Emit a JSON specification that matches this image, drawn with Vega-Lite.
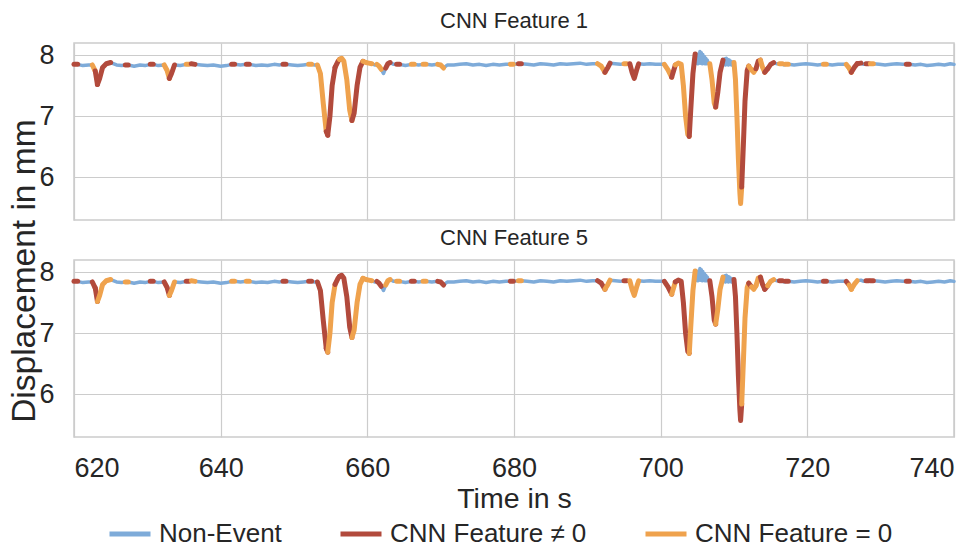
{
"$schema": "https://vega.github.io/schema/vega-lite/v6.json",
"padding": {"left": 8, "top": 9, "right": 4, "bottom": 0},
"background": "white",
"title": {"text": "Displacement in mm", "orient": "left", "anchor": "middle", "frame": "bounds", "fontSize": 33.5, "fontWeight": "normal", "color": "#262626", "font": "Liberation Sans", "offset": -4, "dx": 7},
"data": {"values": [
{"t":620.0,"y":7.85,"CNN Feature 1":"CNN Feature ≠ 0","CNN Feature 5":"CNN Feature ≠ 0","s":1},
{"t":620.5,"y":7.85,"CNN Feature 1":"CNN Feature ≠ 0","CNN Feature 5":"CNN Feature ≠ 0","s":1},
{"t":621.2,"y":7.83},
{"t":622.0,"y":7.84},
{"t":622.5,"y":7.84,"CNN Feature 1":"CNN Feature = 0","CNN Feature 5":"CNN Feature ≠ 0","s":2},
{"t":622.9,"y":7.74,"CNN Feature 1":"CNN Feature = 0","CNN Feature 5":"CNN Feature ≠ 0","s":2},
{"t":622.9,"y":7.74,"CNN Feature 1":"CNN Feature ≠ 0","CNN Feature 5":"CNN Feature ≠ 0","s":3},
{"t":623.2,"y":7.52,"CNN Feature 1":"CNN Feature ≠ 0","CNN Feature 5":"CNN Feature ≠ 0","s":3},
{"t":623.2,"y":7.52,"CNN Feature 1":"CNN Feature ≠ 0","CNN Feature 5":"CNN Feature = 0","s":4},
{"t":623.5,"y":7.62,"CNN Feature 1":"CNN Feature ≠ 0","CNN Feature 5":"CNN Feature = 0","s":4},
{"t":623.9,"y":7.80,"CNN Feature 1":"CNN Feature ≠ 0","CNN Feature 5":"CNN Feature = 0","s":4},
{"t":624.4,"y":7.86,"CNN Feature 1":"CNN Feature ≠ 0","CNN Feature 5":"CNN Feature = 0","s":4},
{"t":625.0,"y":7.88,"CNN Feature 1":"CNN Feature ≠ 0","CNN Feature 5":"CNN Feature = 0","s":4},
{"t":625.8,"y":7.84},
{"t":626.5,"y":7.83},
{"t":627.0,"y":7.84,"CNN Feature 1":"CNN Feature ≠ 0","CNN Feature 5":"CNN Feature = 0","s":5},
{"t":627.4,"y":7.84,"CNN Feature 1":"CNN Feature ≠ 0","CNN Feature 5":"CNN Feature = 0","s":5},
{"t":628.2,"y":7.82},
{"t":629.0,"y":7.84},
{"t":629.7,"y":7.83},
{"t":630.4,"y":7.85,"CNN Feature 1":"CNN Feature ≠ 0","CNN Feature 5":"CNN Feature ≠ 0","s":6},
{"t":630.8,"y":7.85,"CNN Feature 1":"CNN Feature ≠ 0","CNN Feature 5":"CNN Feature ≠ 0","s":6},
{"t":631.5,"y":7.83},
{"t":632.3,"y":7.84,"CNN Feature 1":"CNN Feature = 0","CNN Feature 5":"CNN Feature ≠ 0","s":7},
{"t":632.7,"y":7.75,"CNN Feature 1":"CNN Feature = 0","CNN Feature 5":"CNN Feature ≠ 0","s":7},
{"t":633.0,"y":7.62,"CNN Feature 1":"CNN Feature = 0","CNN Feature 5":"CNN Feature ≠ 0","s":7},
{"t":633.0,"y":7.62,"CNN Feature 1":"CNN Feature ≠ 0","CNN Feature 5":"CNN Feature = 0","s":8},
{"t":633.3,"y":7.70,"CNN Feature 1":"CNN Feature ≠ 0","CNN Feature 5":"CNN Feature = 0","s":8},
{"t":633.7,"y":7.84,"CNN Feature 1":"CNN Feature ≠ 0","CNN Feature 5":"CNN Feature = 0","s":8},
{"t":634.5,"y":7.83},
{"t":635.3,"y":7.85,"CNN Feature 1":"CNN Feature = 0","CNN Feature 5":"CNN Feature ≠ 0","s":9},
{"t":635.7,"y":7.85,"CNN Feature 1":"CNN Feature = 0","CNN Feature 5":"CNN Feature ≠ 0","s":9},
{"t":636.0,"y":7.86,"CNN Feature 1":"CNN Feature ≠ 0","CNN Feature 5":"CNN Feature = 0","s":10},
{"t":636.5,"y":7.85,"CNN Feature 1":"CNN Feature ≠ 0","CNN Feature 5":"CNN Feature = 0","s":10},
{"t":637.3,"y":7.84},
{"t":638.2,"y":7.83},
{"t":639.0,"y":7.84},
{"t":640.0,"y":7.82},
{"t":640.8,"y":7.83},
{"t":641.5,"y":7.85,"CNN Feature 1":"CNN Feature ≠ 0","CNN Feature 5":"CNN Feature = 0","s":11},
{"t":641.9,"y":7.85,"CNN Feature 1":"CNN Feature ≠ 0","CNN Feature 5":"CNN Feature = 0","s":11},
{"t":642.7,"y":7.84},
{"t":643.5,"y":7.85,"CNN Feature 1":"CNN Feature ≠ 0","CNN Feature 5":"CNN Feature = 0","s":12},
{"t":643.9,"y":7.85,"CNN Feature 1":"CNN Feature ≠ 0","CNN Feature 5":"CNN Feature = 0","s":12},
{"t":644.8,"y":7.83},
{"t":645.6,"y":7.84},
{"t":646.4,"y":7.83},
{"t":647.3,"y":7.85},
{"t":648.0,"y":7.84},
{"t":648.5,"y":7.85,"CNN Feature 1":"CNN Feature ≠ 0","CNN Feature 5":"CNN Feature ≠ 0","s":13},
{"t":648.9,"y":7.85,"CNN Feature 1":"CNN Feature ≠ 0","CNN Feature 5":"CNN Feature ≠ 0","s":13},
{"t":649.7,"y":7.84},
{"t":650.5,"y":7.83},
{"t":651.3,"y":7.84},
{"t":652.0,"y":7.85,"CNN Feature 1":"CNN Feature = 0","CNN Feature 5":"CNN Feature ≠ 0","s":14},
{"t":652.4,"y":7.85,"CNN Feature 1":"CNN Feature = 0","CNN Feature 5":"CNN Feature ≠ 0","s":14},
{"t":652.8,"y":7.84},
{"t":653.2,"y":7.84,"CNN Feature 1":"CNN Feature = 0","CNN Feature 5":"CNN Feature ≠ 0","s":15},
{"t":653.6,"y":7.70,"CNN Feature 1":"CNN Feature = 0","CNN Feature 5":"CNN Feature ≠ 0","s":15},
{"t":654.0,"y":7.20,"CNN Feature 1":"CNN Feature = 0","CNN Feature 5":"CNN Feature ≠ 0","s":15},
{"t":654.4,"y":6.75,"CNN Feature 1":"CNN Feature = 0","CNN Feature 5":"CNN Feature ≠ 0","s":15},
{"t":654.4,"y":6.75,"CNN Feature 1":"CNN Feature ≠ 0","CNN Feature 5":"CNN Feature ≠ 0","s":16},
{"t":654.6,"y":6.69,"CNN Feature 1":"CNN Feature ≠ 0","CNN Feature 5":"CNN Feature ≠ 0","s":16},
{"t":654.6,"y":6.69,"CNN Feature 1":"CNN Feature ≠ 0","CNN Feature 5":"CNN Feature = 0","s":17},
{"t":654.9,"y":7.00,"CNN Feature 1":"CNN Feature ≠ 0","CNN Feature 5":"CNN Feature = 0","s":17},
{"t":655.2,"y":7.50,"CNN Feature 1":"CNN Feature ≠ 0","CNN Feature 5":"CNN Feature = 0","s":17},
{"t":655.6,"y":7.80,"CNN Feature 1":"CNN Feature ≠ 0","CNN Feature 5":"CNN Feature = 0","s":17},
{"t":655.6,"y":7.80,"CNN Feature 1":"CNN Feature ≠ 0","CNN Feature 5":"CNN Feature ≠ 0","s":18},
{"t":656.0,"y":7.90,"CNN Feature 1":"CNN Feature ≠ 0","CNN Feature 5":"CNN Feature ≠ 0","s":18},
{"t":656.2,"y":7.93,"CNN Feature 1":"CNN Feature ≠ 0","CNN Feature 5":"CNN Feature ≠ 0","s":18},
{"t":656.2,"y":7.93,"CNN Feature 1":"CNN Feature = 0","CNN Feature 5":"CNN Feature ≠ 0","s":19},
{"t":656.5,"y":7.95,"CNN Feature 1":"CNN Feature = 0","CNN Feature 5":"CNN Feature ≠ 0","s":19},
{"t":656.8,"y":7.90,"CNN Feature 1":"CNN Feature = 0","CNN Feature 5":"CNN Feature ≠ 0","s":19},
{"t":657.2,"y":7.60,"CNN Feature 1":"CNN Feature = 0","CNN Feature 5":"CNN Feature ≠ 0","s":19},
{"t":657.6,"y":7.10,"CNN Feature 1":"CNN Feature = 0","CNN Feature 5":"CNN Feature ≠ 0","s":19},
{"t":657.9,"y":6.93,"CNN Feature 1":"CNN Feature = 0","CNN Feature 5":"CNN Feature ≠ 0","s":19},
{"t":657.9,"y":6.93,"CNN Feature 1":"CNN Feature ≠ 0","CNN Feature 5":"CNN Feature = 0","s":20},
{"t":658.2,"y":7.05,"CNN Feature 1":"CNN Feature ≠ 0","CNN Feature 5":"CNN Feature = 0","s":20},
{"t":658.6,"y":7.50,"CNN Feature 1":"CNN Feature ≠ 0","CNN Feature 5":"CNN Feature = 0","s":20},
{"t":659.0,"y":7.80,"CNN Feature 1":"CNN Feature ≠ 0","CNN Feature 5":"CNN Feature = 0","s":20},
{"t":659.4,"y":7.90,"CNN Feature 1":"CNN Feature ≠ 0","CNN Feature 5":"CNN Feature = 0","s":20},
{"t":659.4,"y":7.90,"CNN Feature 1":"CNN Feature = 0","CNN Feature 5":"CNN Feature = 0","s":21},
{"t":659.8,"y":7.88,"CNN Feature 1":"CNN Feature = 0","CNN Feature 5":"CNN Feature = 0","s":21},
{"t":660.2,"y":7.87,"CNN Feature 1":"CNN Feature = 0","CNN Feature 5":"CNN Feature = 0","s":21},
{"t":660.6,"y":7.86,"CNN Feature 1":"CNN Feature = 0","CNN Feature 5":"CNN Feature = 0","s":21},
{"t":661.0,"y":7.84},
{"t":661.3,"y":7.85,"CNN Feature 1":"CNN Feature = 0","CNN Feature 5":"CNN Feature ≠ 0","s":22},
{"t":661.6,"y":7.82,"CNN Feature 1":"CNN Feature = 0","CNN Feature 5":"CNN Feature ≠ 0","s":22},
{"t":661.9,"y":7.77,"CNN Feature 1":"CNN Feature = 0","CNN Feature 5":"CNN Feature ≠ 0","s":22},
{"t":662.2,"y":7.70},
{"t":662.5,"y":7.79,"CNN Feature 1":"CNN Feature ≠ 0","CNN Feature 5":"CNN Feature = 0","s":23},
{"t":662.8,"y":7.86,"CNN Feature 1":"CNN Feature ≠ 0","CNN Feature 5":"CNN Feature = 0","s":23},
{"t":663.1,"y":7.88,"CNN Feature 1":"CNN Feature ≠ 0","CNN Feature 5":"CNN Feature = 0","s":23},
{"t":663.6,"y":7.85},
{"t":664.0,"y":7.85,"CNN Feature 1":"CNN Feature ≠ 0","CNN Feature 5":"CNN Feature = 0","s":24},
{"t":664.4,"y":7.85,"CNN Feature 1":"CNN Feature ≠ 0","CNN Feature 5":"CNN Feature = 0","s":24},
{"t":665.2,"y":7.83},
{"t":666.0,"y":7.85,"CNN Feature 1":"CNN Feature = 0","CNN Feature 5":"CNN Feature ≠ 0","s":25},
{"t":666.4,"y":7.85,"CNN Feature 1":"CNN Feature = 0","CNN Feature 5":"CNN Feature ≠ 0","s":25},
{"t":667.0,"y":7.84},
{"t":667.6,"y":7.85,"CNN Feature 1":"CNN Feature = 0","CNN Feature 5":"CNN Feature = 0","s":26},
{"t":668.0,"y":7.85,"CNN Feature 1":"CNN Feature = 0","CNN Feature 5":"CNN Feature = 0","s":26},
{"t":668.8,"y":7.84},
{"t":669.6,"y":7.85,"CNN Feature 1":"CNN Feature = 0","CNN Feature 5":"CNN Feature ≠ 0","s":27},
{"t":670.0,"y":7.84,"CNN Feature 1":"CNN Feature = 0","CNN Feature 5":"CNN Feature ≠ 0","s":27},
{"t":670.4,"y":7.79,"CNN Feature 1":"CNN Feature = 0","CNN Feature 5":"CNN Feature ≠ 0","s":27},
{"t":670.9,"y":7.84},
{"t":671.8,"y":7.84},
{"t":672.6,"y":7.85},
{"t":673.5,"y":7.86},
{"t":674.4,"y":7.84},
{"t":675.3,"y":7.85},
{"t":676.2,"y":7.83},
{"t":677.1,"y":7.85},
{"t":678.0,"y":7.84},
{"t":678.9,"y":7.85},
{"t":679.5,"y":7.85,"CNN Feature 1":"CNN Feature = 0","CNN Feature 5":"CNN Feature ≠ 0","s":28},
{"t":679.9,"y":7.85,"CNN Feature 1":"CNN Feature = 0","CNN Feature 5":"CNN Feature ≠ 0","s":28},
{"t":680.6,"y":7.86,"CNN Feature 1":"CNN Feature ≠ 0","CNN Feature 5":"CNN Feature = 0","s":29},
{"t":681.0,"y":7.86,"CNN Feature 1":"CNN Feature ≠ 0","CNN Feature 5":"CNN Feature = 0","s":29},
{"t":681.8,"y":7.85},
{"t":682.7,"y":7.84},
{"t":683.6,"y":7.86},
{"t":684.5,"y":7.85},
{"t":685.4,"y":7.84},
{"t":686.3,"y":7.86},
{"t":687.2,"y":7.85},
{"t":688.1,"y":7.86},
{"t":689.0,"y":7.87},
{"t":689.9,"y":7.85},
{"t":690.7,"y":7.86},
{"t":691.4,"y":7.86,"CNN Feature 1":"CNN Feature = 0","CNN Feature 5":"CNN Feature ≠ 0","s":30},
{"t":691.9,"y":7.82,"CNN Feature 1":"CNN Feature = 0","CNN Feature 5":"CNN Feature ≠ 0","s":30},
{"t":692.4,"y":7.72,"CNN Feature 1":"CNN Feature = 0","CNN Feature 5":"CNN Feature ≠ 0","s":30},
{"t":692.4,"y":7.72,"CNN Feature 1":"CNN Feature ≠ 0","CNN Feature 5":"CNN Feature = 0","s":31},
{"t":692.8,"y":7.80,"CNN Feature 1":"CNN Feature ≠ 0","CNN Feature 5":"CNN Feature = 0","s":31},
{"t":693.1,"y":7.87,"CNN Feature 1":"CNN Feature ≠ 0","CNN Feature 5":"CNN Feature = 0","s":31},
{"t":693.8,"y":7.86},
{"t":694.5,"y":7.85},
{"t":695.0,"y":7.86,"CNN Feature 1":"CNN Feature = 0","CNN Feature 5":"CNN Feature ≠ 0","s":32},
{"t":695.4,"y":7.86,"CNN Feature 1":"CNN Feature = 0","CNN Feature 5":"CNN Feature ≠ 0","s":32},
{"t":695.8,"y":7.86,"CNN Feature 1":"CNN Feature ≠ 0","CNN Feature 5":"CNN Feature = 0","s":33},
{"t":696.1,"y":7.72,"CNN Feature 1":"CNN Feature ≠ 0","CNN Feature 5":"CNN Feature = 0","s":33},
{"t":696.4,"y":7.62,"CNN Feature 1":"CNN Feature ≠ 0","CNN Feature 5":"CNN Feature = 0","s":33},
{"t":696.7,"y":7.75,"CNN Feature 1":"CNN Feature ≠ 0","CNN Feature 5":"CNN Feature = 0","s":33},
{"t":697.0,"y":7.86,"CNN Feature 1":"CNN Feature ≠ 0","CNN Feature 5":"CNN Feature = 0","s":33},
{"t":697.7,"y":7.85},
{"t":698.5,"y":7.86},
{"t":699.3,"y":7.85},
{"t":700.0,"y":7.85},
{"t":700.5,"y":7.85,"CNN Feature 1":"CNN Feature = 0","CNN Feature 5":"CNN Feature ≠ 0","s":34},
{"t":701.0,"y":7.76,"CNN Feature 1":"CNN Feature = 0","CNN Feature 5":"CNN Feature ≠ 0","s":34},
{"t":701.5,"y":7.64,"CNN Feature 1":"CNN Feature = 0","CNN Feature 5":"CNN Feature ≠ 0","s":34},
{"t":701.5,"y":7.64,"CNN Feature 1":"CNN Feature ≠ 0","CNN Feature 5":"CNN Feature = 0","s":35},
{"t":702.0,"y":7.84,"CNN Feature 1":"CNN Feature ≠ 0","CNN Feature 5":"CNN Feature = 0","s":35},
{"t":702.0,"y":7.84,"CNN Feature 1":"CNN Feature = 0","CNN Feature 5":"CNN Feature ≠ 0","s":36},
{"t":702.4,"y":7.87,"CNN Feature 1":"CNN Feature = 0","CNN Feature 5":"CNN Feature ≠ 0","s":36},
{"t":702.8,"y":7.85,"CNN Feature 1":"CNN Feature = 0","CNN Feature 5":"CNN Feature ≠ 0","s":36},
{"t":703.1,"y":7.50,"CNN Feature 1":"CNN Feature = 0","CNN Feature 5":"CNN Feature ≠ 0","s":36},
{"t":703.4,"y":7.00,"CNN Feature 1":"CNN Feature = 0","CNN Feature 5":"CNN Feature ≠ 0","s":36},
{"t":703.7,"y":6.70,"CNN Feature 1":"CNN Feature = 0","CNN Feature 5":"CNN Feature ≠ 0","s":36},
{"t":703.9,"y":6.67,"CNN Feature 1":"CNN Feature = 0","CNN Feature 5":"CNN Feature ≠ 0","s":36},
{"t":703.9,"y":6.67,"CNN Feature 1":"CNN Feature ≠ 0","CNN Feature 5":"CNN Feature = 0","s":37},
{"t":704.1,"y":7.10,"CNN Feature 1":"CNN Feature ≠ 0","CNN Feature 5":"CNN Feature = 0","s":37},
{"t":704.4,"y":7.70,"CNN Feature 1":"CNN Feature ≠ 0","CNN Feature 5":"CNN Feature = 0","s":37},
{"t":704.7,"y":8.02,"CNN Feature 1":"CNN Feature ≠ 0","CNN Feature 5":"CNN Feature = 0","s":37},
{"t":704.85,"y":7.87},
{"t":704.95,"y":7.97},
{"t":705.05,"y":7.86},
{"t":705.15,"y":8.02},
{"t":705.25,"y":7.87},
{"t":705.35,"y":8.06},
{"t":705.45,"y":7.87},
{"t":705.55,"y":8.04},
{"t":705.65,"y":7.86},
{"t":705.75,"y":8.01},
{"t":705.85,"y":7.87},
{"t":705.95,"y":7.98},
{"t":706.05,"y":7.86},
{"t":706.15,"y":7.95},
{"t":706.25,"y":7.86},
{"t":706.35,"y":7.92},
{"t":706.5,"y":7.86},
{"t":706.7,"y":7.86,"CNN Feature 1":"CNN Feature = 0","CNN Feature 5":"CNN Feature ≠ 0","s":38},
{"t":707.0,"y":7.60,"CNN Feature 1":"CNN Feature = 0","CNN Feature 5":"CNN Feature ≠ 0","s":38},
{"t":707.3,"y":7.22,"CNN Feature 1":"CNN Feature = 0","CNN Feature 5":"CNN Feature ≠ 0","s":38},
{"t":707.5,"y":7.15,"CNN Feature 1":"CNN Feature = 0","CNN Feature 5":"CNN Feature ≠ 0","s":38},
{"t":707.5,"y":7.15,"CNN Feature 1":"CNN Feature ≠ 0","CNN Feature 5":"CNN Feature = 0","s":39},
{"t":707.8,"y":7.40,"CNN Feature 1":"CNN Feature ≠ 0","CNN Feature 5":"CNN Feature = 0","s":39},
{"t":708.1,"y":7.72,"CNN Feature 1":"CNN Feature ≠ 0","CNN Feature 5":"CNN Feature = 0","s":39},
{"t":708.5,"y":7.92,"CNN Feature 1":"CNN Feature ≠ 0","CNN Feature 5":"CNN Feature = 0","s":39},
{"t":708.65,"y":7.85},
{"t":708.75,"y":7.94},
{"t":708.85,"y":7.84},
{"t":708.95,"y":7.95},
{"t":709.05,"y":7.85},
{"t":709.15,"y":7.93},
{"t":709.25,"y":7.84},
{"t":709.35,"y":7.92},
{"t":709.45,"y":7.85},
{"t":709.55,"y":7.90},
{"t":709.65,"y":7.84},
{"t":709.75,"y":7.89},
{"t":709.85,"y":7.85},
{"t":710.0,"y":7.88,"CNN Feature 1":"CNN Feature = 0","CNN Feature 5":"CNN Feature ≠ 0","s":40},
{"t":710.2,"y":7.60,"CNN Feature 1":"CNN Feature = 0","CNN Feature 5":"CNN Feature ≠ 0","s":40},
{"t":710.4,"y":7.00,"CNN Feature 1":"CNN Feature = 0","CNN Feature 5":"CNN Feature ≠ 0","s":40},
{"t":710.6,"y":6.30,"CNN Feature 1":"CNN Feature = 0","CNN Feature 5":"CNN Feature ≠ 0","s":40},
{"t":710.8,"y":5.75,"CNN Feature 1":"CNN Feature = 0","CNN Feature 5":"CNN Feature ≠ 0","s":40},
{"t":710.9,"y":5.57,"CNN Feature 1":"CNN Feature = 0","CNN Feature 5":"CNN Feature ≠ 0","s":40},
{"t":711.05,"y":5.84,"CNN Feature 1":"CNN Feature = 0","CNN Feature 5":"CNN Feature ≠ 0","s":40},
{"t":711.05,"y":5.84,"CNN Feature 1":"CNN Feature ≠ 0","CNN Feature 5":"CNN Feature = 0","s":41},
{"t":711.3,"y":6.60,"CNN Feature 1":"CNN Feature ≠ 0","CNN Feature 5":"CNN Feature = 0","s":41},
{"t":711.5,"y":7.25,"CNN Feature 1":"CNN Feature ≠ 0","CNN Feature 5":"CNN Feature = 0","s":41},
{"t":711.8,"y":7.75,"CNN Feature 1":"CNN Feature ≠ 0","CNN Feature 5":"CNN Feature = 0","s":41},
{"t":712.0,"y":7.82,"CNN Feature 1":"CNN Feature ≠ 0","CNN Feature 5":"CNN Feature = 0","s":41},
{"t":712.0,"y":7.82,"CNN Feature 1":"CNN Feature = 0","CNN Feature 5":"CNN Feature ≠ 0","s":42},
{"t":712.4,"y":7.76,"CNN Feature 1":"CNN Feature = 0","CNN Feature 5":"CNN Feature ≠ 0","s":42},
{"t":712.4,"y":7.76,"CNN Feature 1":"CNN Feature = 0","CNN Feature 5":"CNN Feature = 0","s":43},
{"t":712.7,"y":7.72,"CNN Feature 1":"CNN Feature = 0","CNN Feature 5":"CNN Feature = 0","s":43},
{"t":713.0,"y":7.78,"CNN Feature 1":"CNN Feature = 0","CNN Feature 5":"CNN Feature = 0","s":43},
{"t":713.0,"y":7.78,"CNN Feature 1":"CNN Feature ≠ 0","CNN Feature 5":"CNN Feature = 0","s":44},
{"t":713.3,"y":7.90,"CNN Feature 1":"CNN Feature ≠ 0","CNN Feature 5":"CNN Feature = 0","s":44},
{"t":713.6,"y":7.92,"CNN Feature 1":"CNN Feature ≠ 0","CNN Feature 5":"CNN Feature = 0","s":44},
{"t":713.6,"y":7.92,"CNN Feature 1":"CNN Feature = 0","CNN Feature 5":"CNN Feature ≠ 0","s":45},
{"t":713.9,"y":7.80,"CNN Feature 1":"CNN Feature = 0","CNN Feature 5":"CNN Feature ≠ 0","s":45},
{"t":714.2,"y":7.72,"CNN Feature 1":"CNN Feature = 0","CNN Feature 5":"CNN Feature ≠ 0","s":45},
{"t":714.2,"y":7.72,"CNN Feature 1":"CNN Feature ≠ 0","CNN Feature 5":"CNN Feature ≠ 0","s":46},
{"t":714.6,"y":7.78,"CNN Feature 1":"CNN Feature ≠ 0","CNN Feature 5":"CNN Feature ≠ 0","s":46},
{"t":714.6,"y":7.78,"CNN Feature 1":"CNN Feature ≠ 0","CNN Feature 5":"CNN Feature = 0","s":47},
{"t":715.0,"y":7.85,"CNN Feature 1":"CNN Feature ≠ 0","CNN Feature 5":"CNN Feature = 0","s":47},
{"t":715.4,"y":7.88,"CNN Feature 1":"CNN Feature ≠ 0","CNN Feature 5":"CNN Feature = 0","s":47},
{"t":715.8,"y":7.86},
{"t":716.2,"y":7.86,"CNN Feature 1":"CNN Feature = 0","CNN Feature 5":"CNN Feature ≠ 0","s":48},
{"t":716.6,"y":7.86,"CNN Feature 1":"CNN Feature = 0","CNN Feature 5":"CNN Feature ≠ 0","s":48},
{"t":716.8,"y":7.84},
{"t":717.0,"y":7.85,"CNN Feature 1":"CNN Feature = 0","CNN Feature 5":"CNN Feature ≠ 0","s":49},
{"t":717.4,"y":7.85,"CNN Feature 1":"CNN Feature = 0","CNN Feature 5":"CNN Feature ≠ 0","s":49},
{"t":718.2,"y":7.84},
{"t":719.0,"y":7.85},
{"t":719.8,"y":7.86},
{"t":720.6,"y":7.85},
{"t":721.4,"y":7.84},
{"t":722.2,"y":7.85,"CNN Feature 1":"CNN Feature = 0","CNN Feature 5":"CNN Feature ≠ 0","s":50},
{"t":722.6,"y":7.85,"CNN Feature 1":"CNN Feature = 0","CNN Feature 5":"CNN Feature ≠ 0","s":50},
{"t":723.4,"y":7.84},
{"t":724.2,"y":7.85},
{"t":725.3,"y":7.85,"CNN Feature 1":"CNN Feature = 0","CNN Feature 5":"CNN Feature ≠ 0","s":51},
{"t":725.7,"y":7.79,"CNN Feature 1":"CNN Feature = 0","CNN Feature 5":"CNN Feature ≠ 0","s":51},
{"t":725.7,"y":7.79,"CNN Feature 1":"CNN Feature = 0","CNN Feature 5":"CNN Feature = 0","s":52},
{"t":726.0,"y":7.72,"CNN Feature 1":"CNN Feature = 0","CNN Feature 5":"CNN Feature = 0","s":52},
{"t":726.0,"y":7.72,"CNN Feature 1":"CNN Feature ≠ 0","CNN Feature 5":"CNN Feature = 0","s":53},
{"t":726.4,"y":7.80,"CNN Feature 1":"CNN Feature ≠ 0","CNN Feature 5":"CNN Feature = 0","s":53},
{"t":726.8,"y":7.86,"CNN Feature 1":"CNN Feature ≠ 0","CNN Feature 5":"CNN Feature = 0","s":53},
{"t":726.8,"y":7.86,"CNN Feature 1":"CNN Feature ≠ 0","s":54},
{"t":727.3,"y":7.87,"CNN Feature 1":"CNN Feature ≠ 0","s":54},
{"t":727.7,"y":7.85},
{"t":728.0,"y":7.86,"CNN Feature 1":"CNN Feature ≠ 0","CNN Feature 5":"CNN Feature ≠ 0","s":55},
{"t":728.4,"y":7.86,"CNN Feature 1":"CNN Feature ≠ 0","CNN Feature 5":"CNN Feature ≠ 0","s":55},
{"t":728.6,"y":7.86,"CNN Feature 1":"CNN Feature = 0","CNN Feature 5":"CNN Feature ≠ 0","s":56},
{"t":729.0,"y":7.86,"CNN Feature 1":"CNN Feature = 0","CNN Feature 5":"CNN Feature ≠ 0","s":56},
{"t":729.8,"y":7.85},
{"t":730.6,"y":7.84},
{"t":731.4,"y":7.85},
{"t":732.2,"y":7.86},
{"t":733.0,"y":7.85},
{"t":733.5,"y":7.85,"CNN Feature 1":"CNN Feature ≠ 0","CNN Feature 5":"CNN Feature ≠ 0","s":57},
{"t":733.9,"y":7.85,"CNN Feature 1":"CNN Feature ≠ 0","CNN Feature 5":"CNN Feature ≠ 0","s":57},
{"t":734.7,"y":7.84},
{"t":735.5,"y":7.85},
{"t":736.3,"y":7.83},
{"t":737.1,"y":7.84},
{"t":737.9,"y":7.85},
{"t":738.7,"y":7.84},
{"t":739.5,"y":7.86},
{"t":740.0,"y":7.85}
]},
"transform": [{"fold": ["CNN Feature 1", "CNN Feature 5"], "as": ["panel", "cls"]}],
"facet": {"row": {"field": "panel", "type": "nominal", "title": null,
  "header": {"labelOrient": "top", "labelAngle": 0, "labelAnchor": "middle", "labelFontSize": 22, "labelPadding": -12, "labelColor": "#262626", "labelFont": "Liberation Sans"}}},
"spacing": 5,
"spec": {
  "width": 880,
  "height": 177,
  "encoding": {
    "x": {"field": "t", "type": "quantitative", "scale": {"domain": [620, 740], "nice": false},
      "axis": {"title": "Time in s", "values": [620, 640, 660, 680, 700, 720, 740]}},
    "y": {"field": "y", "type": "quantitative", "scale": {"domain": [5.3, 8.2], "nice": false, "zero": false},
      "axis": {"title": null, "values": [6, 7, 8]}}
  },
  "layer": [
    {"mark": {"type": "line", "color": "#7EABD9", "strokeWidth": 3.5, "strokeJoin": "round", "strokeCap": "round"}, "encoding": {}},
    {"transform": [{"filter": {"field": "cls", "oneOf": ["CNN Feature ≠ 0", "CNN Feature = 0"]}}],
     "mark": {"type": "line", "strokeWidth": 5, "strokeJoin": "round", "strokeCap": "round"},
     "encoding": {
       "color": {"field": "cls", "type": "nominal",
         "scale": {"domain": ["Non-Event", "CNN Feature ≠ 0", "CNN Feature = 0"], "range": ["#7EABD9", "#B24A3C", "#EFA24D"]},
         "legend": {"title": null, "orient": "none", "legendX": 33, "legendY": 468, "direction": "horizontal"}},
       "detail": {"field": "s", "type": "nominal"}
     }}
  ]
},
"config": {
  "font": "Liberation Sans",
  "view": {"stroke": "#cccccc", "strokeWidth": 1.5},
  "axis": {"grid": true, "gridColor": "#cccccc", "gridWidth": 1.2, "domain": false, "ticks": false,
    "labelFontSize": 27, "labelColor": "#262626", "titleColor": "#262626", "titleFontWeight": "normal"},
  "axisX": {"titleFontSize": 28.5, "titlePadding": 3, "labelPadding": 17},
  "axisY": {"labelPadding": 16},
  "legend": {"symbolType": "stroke", "symbolStrokeWidth": 5, "symbolSize": 1681, "labelFontSize": 26, "labelLimit": 400,
    "columnPadding": 48, "labelColor": "#262626", "labelOffset": 6, "offset": 0, "padding": 0}
}
}
